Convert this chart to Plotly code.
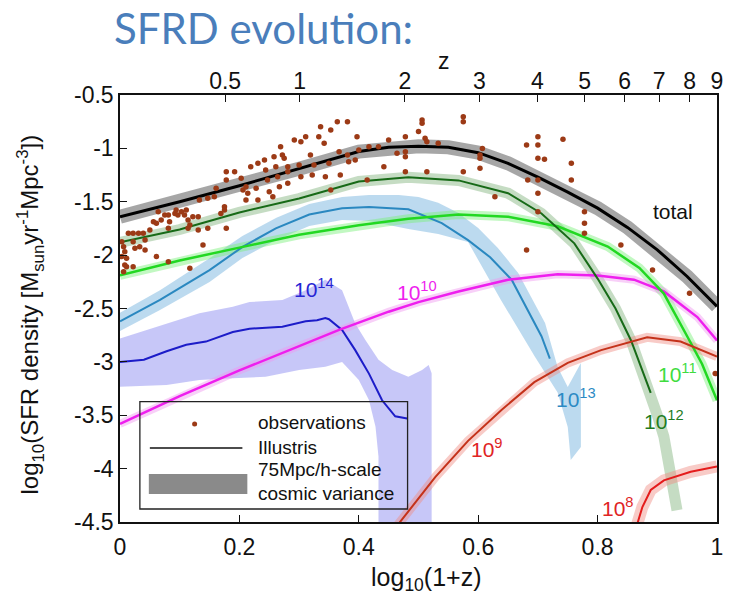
import numpy as np
import plotly.graph_objects as go

# ---------------- data ----------------
obs_x = [0.003, 0.006, 0.008, 0.003, 0.011, 0.008, 0.006, 0.014, 0.022, 0.031, 0.039, 0.022, 0.025, 0.033,
         0.042, 0.042, 0.011, 0.022, 0.05, 0.056, 0.064, 0.061, 0.069, 0.075, 0.081, 0.083, 0.081, 0.092,
         0.094, 0.097, 0.103, 0.108, 0.111, 0.114, 0.117, 0.114, 0.122, 0.131, 0.133, 0.131, 0.139, 0.147,
         0.147, 0.158, 0.161, 0.169, 0.175, 0.175, 0.178, 0.178, 0.178, 0.192, 0.203, 0.206, 0.211, 0.211,
         0.214, 0.219, 0.228, 0.231, 0.231, 0.242, 0.244, 0.247, 0.25, 0.256, 0.258, 0.261, 0.264, 0.267,
         0.269, 0.272, 0.275, 0.281, 0.281, 0.281, 0.292, 0.3, 0.303, 0.303, 0.311, 0.319, 0.322, 0.325,
         0.333, 0.336, 0.342, 0.344, 0.35, 0.353, 0.353, 0.364, 0.367, 0.369, 0.381, 0.381, 0.383, 0.394,
         0.397, 0.4, 0.414, 0.081, 0.061, 0.117,
         0.417, 0.433, 0.442, 0.45, 0.464, 0.478, 0.478, 0.478, 0.478, 0.5, 0.506, 0.506, 0.511, 0.514,
         0.514, 0.533, 0.575, 0.575, 0.575, 0.603, 0.603, 0.603, 0.607, 0.628, 0.681, 0.681, 0.683, 0.7,
         0.7, 0.7, 0.7, 0.7, 0.7, 0.711, 0.742, 0.756, 0.756, 0.778, 0.778, 0.778, 0.839, 0.892, 0.954, 0.997]
obs_y = [-1.874, -1.921, -1.968, -2.014, -2.030, -2.093, -2.155, -1.796, -1.796, -1.796, -1.796, -1.874,
         -1.936, -1.921, -1.952, -1.858, -2.108, -2.108, -1.765, -1.687, -1.593, -1.702, -1.671, -1.624,
         -1.624, -1.687, -1.749, -1.609, -1.577, -1.624, -1.593, -1.624, -1.577, -1.671, -1.718, -1.749,
         -1.640, -1.640, -1.484, -1.765, -1.905, -1.468, -1.749, -1.452, -1.374, -1.609, -1.577, -1.546,
         -1.218, -1.296, -1.749, -1.218, -1.281, -1.390, -1.359, -1.484, -1.421, -1.171, -1.374, -1.140,
         -1.484, -1.109, -1.203, -1.296, -1.406, -1.452, -1.078, -1.171, -1.265, -1.359, -0.984, -1.062,
         -1.093, -1.171, -1.218, -1.327, -0.922, -1.156, -0.937, -1.265, -0.890, -1.062, -1.249, -1.156,
         -0.890, -0.797, -0.953, -1.265, -1.140, -0.828, -1.390, -0.75, -1.031, -1.249, -0.75, -1.062,
         -1.125, -1.109, -0.890, -1.015, -1.296, -2.061, -2.014, -2.124,
         -0.984, -0.984, -1.171, -0.922, -1.046, -0.890, -1.031, -1.078, -1.218, -0.843, -0.734, -0.765,
         -0.906, -0.937, -1.218, -0.953, -0.703, -0.75, -1.218, -1.062, -1.093, -1.187, -1.0, -1.452,
         -0.968, -1.952, -1.296, -0.890, -0.968, -1.093, -1.296, -1.421, -1.593, -1.103, -0.915, -1.140,
         -1.296, -1.593, -1.702, -1.796, -1.905, -2.139, -2.358, -3.11]

total_x = [0, 0.1, 0.2, 0.3, 0.4, 0.45, 0.5, 0.55, 0.6, 0.65, 0.7, 0.75, 0.8, 0.85, 0.9, 0.95, 1.0]
total_y = [-1.64, -1.50, -1.35, -1.19, -1.03, -0.99, -0.98, -0.99, -1.04, -1.14, -1.27, -1.41, -1.56,
           -1.74, -1.95, -2.20, -2.48]

m12_x = [0, 0.1, 0.2, 0.3, 0.4, 0.483, 0.567, 0.65, 0.706, 0.761, 0.8, 0.83, 0.856, 0.889]
m12_y = [-1.88, -1.76, -1.60, -1.47, -1.31, -1.27, -1.30, -1.42, -1.61, -1.89, -2.22, -2.50, -2.80, -3.29]
m12_band_x = m12_x + [0.9, 0.911, 0.922, 0.933]
m12_band_y = m12_y + [-3.50, -3.70, -4.02, -4.39]

m11_x = [0, 0.1, 0.2, 0.3, 0.4, 0.483, 0.567, 0.65, 0.733, 0.817, 0.87, 0.911, 0.95, 0.975, 1.0]
m11_y = [-2.19, -2.05, -1.93, -1.81, -1.72, -1.66, -1.62, -1.64, -1.73, -1.92, -2.12, -2.36, -2.76,
         -3.02, -3.36]

m13_x = [0, 0.067, 0.15, 0.206, 0.261, 0.317, 0.372, 0.417, 0.483, 0.539, 0.583, 0.62, 0.656, 0.689,
         0.706, 0.72]
m13_y = [-2.62, -2.42, -2.14, -1.92, -1.75, -1.62, -1.56, -1.55, -1.57, -1.70, -1.86, -2.02, -2.23,
         -2.58, -2.76, -2.97]
m13_band_x = [0, 0.067, 0.15, 0.205, 0.262, 0.317, 0.372, 0.417, 0.467, 0.5, 0.533, 0.567, 0.6, 0.633,
              0.667, 0.712, 0.733, 0.75, 0.772, 0.772, 0.755,
              0.75, 0.733, 0.695, 0.638, 0.583, 0.533, 0.483, 0.417, 0.372, 0.317, 0.262, 0.205, 0.15,
              0.067, 0]
m13_band_y = [-2.54, -2.33, -2.03, -1.82, -1.65, -1.52, -1.455, -1.437, -1.437, -1.455, -1.51, -1.605,
              -1.746, -1.933, -2.167, -2.636, -3.048, -3.235, -3.01, -3.797, -3.919,
              -3.61, -3.288, -2.951, -2.42, -1.877, -1.802, -1.755, -1.68, -1.671, -1.727, -1.858,
              -2.027, -2.252, -2.514, -2.711]

m14_x = [0, 0.04, 0.078, 0.111, 0.144, 0.189, 0.217, 0.25, 0.272, 0.311, 0.33, 0.344, 0.35, 0.372,
         0.394, 0.417, 0.439, 0.461, 0.481]
m14_y = [-3.0, -2.98, -2.90, -2.84, -2.81, -2.72, -2.69, -2.68, -2.67, -2.62, -2.61, -2.59, -2.60,
         -2.70, -2.89, -3.11, -3.36, -3.51, -3.53]
m14_band_x = [0, 0.078, 0.133, 0.189, 0.217, 0.272, 0.311, 0.344, 0.372, 0.394, 0.411, 0.433, 0.456,
              0.483, 0.506, 0.517, 0.522, 0.522,
              0.433, 0.433, 0.428, 0.417, 0.4, 0.372, 0.344, 0.3, 0.244, 0.189, 0.133, 0.078, 0]
m14_band_y = [-2.78, -2.64, -2.545, -2.483, -2.44, -2.42, -2.33, -2.23, -2.33, -2.64, -2.795, -2.98,
              -3.076, -3.139, -3.076, -3.03, -3.107, -4.6,
              -4.6, -3.888, -3.607, -3.357, -3.17, -3.0, -3.045, -3.076, -3.139, -3.154, -3.17,
              -3.217, -3.232]

m10_x = [0, 0.1, 0.2, 0.3, 0.367, 0.45, 0.5, 0.567, 0.65, 0.733, 0.8, 0.861, 0.911, 0.967, 1.0]
m10_y = [-3.58, -3.32, -3.08, -2.85, -2.70, -2.53, -2.44, -2.34, -2.23, -2.18, -2.19, -2.23, -2.34,
         -2.58, -2.80]

m9_x = [0.455, 0.528, 0.583, 0.639, 0.694, 0.75, 0.806, 0.856, 0.883, 0.939, 1.0]
m9_y = [-4.6, -4.08, -3.74, -3.45, -3.19, -3.01, -2.89, -2.81, -2.77, -2.81, -2.95]

m8_x = [0.862, 0.875, 0.889, 0.911, 0.956, 1.0]
m8_y = [-4.6, -4.36, -4.20, -4.11, -4.03, -3.98]

z_ticks = [0.5, 1, 2, 3, 4, 5, 6, 7, 8, 9]
x_ticks = [0, 0.2, 0.4, 0.6, 0.8, 1]
x_ticktext = ["0", "0.2", "0.4", "0.6", "0.8", "1"]
y_ticks = [-4.5, -4, -3.5, -3, -2.5, -2, -1.5, -1, -0.5]
y_ticktext = ["-4.5", "-4", "-3.5", "-3", "-2.5", "-2", "-1.5", "-1", "-0.5"]

labels = [  # text, x, y, color
    ("10<sup>14</sup>", 0.325, -2.31, "#2626d4"),
    ("10<sup>10</sup>", 0.497, -2.34, "#ee22ee"),
    ("10<sup>13</sup>", 0.764, -3.34, "#2c8ac4"),
    ("10<sup>12</sup>", 0.911, -3.545, "#1f7d1f"),
    ("10<sup>11</sup>", 0.934, -3.107, "#3fdc3f"),
    ("10<sup>9</sup>", 0.615, -3.81, "#e02424"),
    ("10<sup>8</sup>", 0.834, -4.357, "#e02424"),
    ("total", 0.927, -1.593, "#111111"),
]

FONT = "Liberation Sans, Arial, sans-serif"

fig = go.Figure()

# bands
fig.add_trace(go.Scatter(x=m14_band_x, y=m14_band_y, fill="toself", mode="lines",
                         line=dict(width=0), fillcolor="rgba(175,175,245,0.7)", hoverinfo="skip"))
fig.add_trace(go.Scatter(x=m13_band_x, y=m13_band_y, fill="toself", mode="lines",
                         line=dict(width=0), fillcolor="rgba(160,202,232,0.7)", hoverinfo="skip"))
fig.add_trace(go.Scatter(x=m12_band_x, y=m12_band_y, mode="lines",
                         line=dict(width=11, color="rgba(140,185,135,0.5)"), hoverinfo="skip"))
fig.add_trace(go.Scatter(x=m11_x, y=m11_y, mode="lines",
                         line=dict(width=9, color="rgba(120,240,120,0.45)"), hoverinfo="skip"))
fig.add_trace(go.Scatter(x=m10_x, y=m10_y, mode="lines",
                         line=dict(width=8, color="rgba(240,150,240,0.45)"), hoverinfo="skip"))
fig.add_trace(go.Scatter(x=m9_x, y=m9_y, mode="lines",
                         line=dict(width=9, color="rgba(240,140,130,0.45)"), hoverinfo="skip"))
fig.add_trace(go.Scatter(x=m8_x, y=m8_y, mode="lines",
                         line=dict(width=12, color="rgba(240,140,130,0.45)"), hoverinfo="skip"))
fig.add_trace(go.Scatter(x=total_x, y=total_y, mode="lines",
                         line=dict(width=14, color="rgba(150,150,150,0.85)"), hoverinfo="skip"))

# lines
fig.add_trace(go.Scatter(x=m14_x, y=m14_y, mode="lines", line=dict(width=2, color="#1c1cc8")))
fig.add_trace(go.Scatter(x=m13_x, y=m13_y, mode="lines", line=dict(width=2, color="#2a88c0")))
fig.add_trace(go.Scatter(x=m10_x, y=m10_y, mode="lines", line=dict(width=2.5, color="#ee1fee")))
fig.add_trace(go.Scatter(x=m11_x, y=m11_y, mode="lines", line=dict(width=2.5, color="#22d822")))
fig.add_trace(go.Scatter(x=m12_x, y=m12_y, mode="lines", line=dict(width=2, color="#176a17")))
fig.add_trace(go.Scatter(x=m9_x, y=m9_y, mode="lines", line=dict(width=2, color="#c4321a")))
fig.add_trace(go.Scatter(x=m8_x, y=m8_y, mode="lines", line=dict(width=2, color="#e41c1c")))
fig.add_trace(go.Scatter(x=total_x, y=total_y, mode="lines", line=dict(width=3, color="#000000")))

# observations
fig.add_trace(go.Scatter(x=obs_x, y=obs_y, mode="markers",
                         marker=dict(size=5.5, color="#9c3a16", line=dict(width=0))))

# top axis carrier
fig.add_trace(go.Scatter(x=[0, 1], y=[-4.5, -4.5], xaxis="x2", mode="lines",
                         line=dict(width=0), hoverinfo="skip"))

for text, lx, ly, col in labels:
    fig.add_annotation(x=lx, y=ly, xref="x", yref="y", text=text, showarrow=False,
                       xanchor="center", yanchor="middle",
                       font=dict(family=FONT, size=21, color=col))

# legend (drawn)
fig.add_shape(type="rect", xref="paper", yref="paper", x0=0.0333, x1=0.4817, y0=0.0304, y1=0.2817,
              line=dict(color="#222222", width=1.3), fillcolor="rgba(0,0,0,0)")
fig.add_shape(type="circle", xref="paper", yref="paper", x0=0.125 - 0.0042, x1=0.125 + 0.0042,
              y0=0.2295 - 0.0059, y1=0.2295 + 0.0059, line=dict(width=0), fillcolor="#9c3a16")
fig.add_shape(type="line", xref="paper", yref="paper", x0=0.05, x1=0.205, y0=0.1733, y1=0.1733,
              line=dict(color="#111111", width=1.5))
fig.add_shape(type="rect", xref="paper", yref="paper", x0=0.0483, x1=0.2133, y0=0.0656, y1=0.1124,
              line=dict(width=0), fillcolor="#8a8a8a")
for txt, yy in [("observations", 0.2319), ("Illustris", 0.1756), ("75Mpc/h-scale", 0.1218),
                ("cosmic variance", 0.0679)]:
    fig.add_annotation(x=0.2283, y=yy, xref="paper", yref="paper", text=txt, showarrow=False,
                       xanchor="left", yanchor="middle", font=dict(family=FONT, size=19, color="#111111"))

# titles
fig.add_annotation(x=-0.0133, y=1.157, xref="paper", yref="paper", text="SFRD evolution:",
                   showarrow=False, xanchor="left", yanchor="middle",
                   font=dict(family="Lato, sans-serif", size=42, color="#4a7ebb"))
fig.add_annotation(x=0.542, y=1.08, xref="paper", yref="paper", text="z", showarrow=False,
                   xanchor="center", yanchor="middle",
                   font=dict(family=FONT, size=23, color="#111111"))
fig.add_annotation(x=-0.15, y=0.487, xref="paper", yref="paper", textangle=-90,
                   text="log<sub>10</sub>(SFR density [M<sub>sun</sub>yr<sup>-1</sup>Mpc<sup>-3</sup>])",
                   showarrow=False, xanchor="center", yanchor="middle",
                   font=dict(family=FONT, size=24, color="#111111"))
fig.add_annotation(x=0.513, y=-0.134, xref="paper", yref="paper", text="log<sub>10</sub>(1+z)",
                   showarrow=False, xanchor="center", yanchor="middle",
                   font=dict(family=FONT, size=25, color="#111111"))

axis_common = dict(showgrid=False, zeroline=False, ticks="inside", ticklen=7, tickwidth=1.2,
                   tickcolor="#111111", linecolor="#111111", linewidth=1.5,
                   tickfont=dict(family=FONT, size=23, color="#111111"))

fig.update_layout(
    width=735, height=596,
    margin=dict(l=120, r=15, t=95, b=74),
    paper_bgcolor="white", plot_bgcolor="white",
    showlegend=False,
    xaxis=dict(range=[0, 1], tickvals=x_ticks, ticktext=x_ticktext, mirror=True, showline=True,
               ticklabelstandoff=4, **axis_common),
    xaxis2=dict(range=[0, 1], overlaying="x", side="top", tickvals=list(np.log10(1 + np.array(z_ticks))),
                ticktext=[str(z) for z in z_ticks], showline=False, **axis_common),
    yaxis=dict(range=[-4.5, -0.5], tickvals=y_ticks, ticktext=y_ticktext, mirror=True, showline=True,
               **axis_common),
)

fig.write_html("out.html")
